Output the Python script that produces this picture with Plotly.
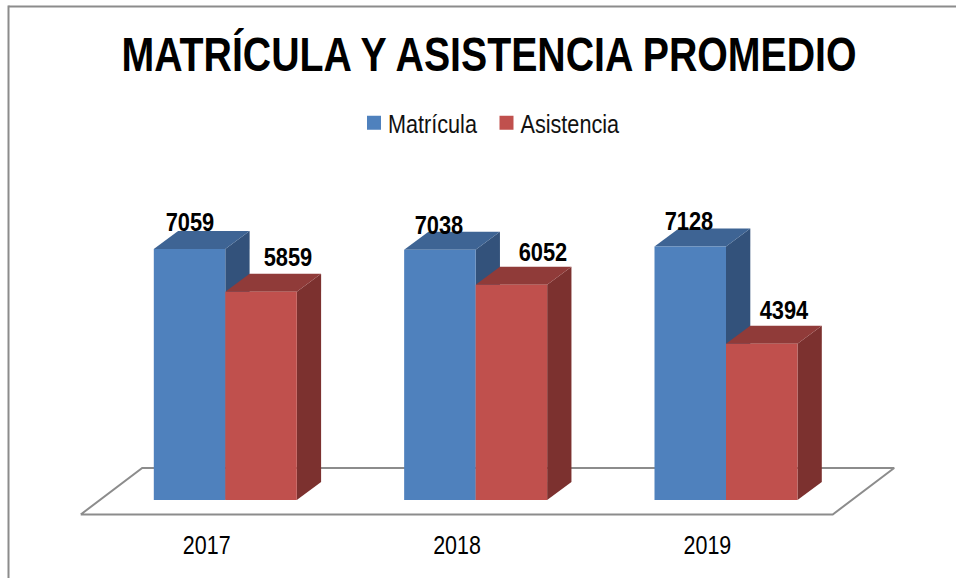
import plotly.graph_objects as go

# Data
years = ["2017", "2018", "2019"]
matricula = [7059, 7038, 7128]
asistencia = [5859, 6052, 4394]

# Canvas / scale
W, H = 956, 578
PLOT_BOTTOM = 527      # px
BASE_PX = 500          # px of value 0
X0_PX = 225.3          # px of the first group centre
X_STEP_PX = 250.35     # px per category
PX_PER_UNIT = 0.03555  # px per data unit

def dx(px):
    return px / X_STEP_PX

def dy(px):
    return px / PX_PER_UNIT

x_range = [dx(-X0_PX), dx(W - X0_PX)]
y_range = [dy(BASE_PX - PLOT_BOTTOM), dy(BASE_PX)]

BAR_W = dx(71.5)
DEPTH_X, DEPTH_Y = dx(24.3), dy(18)
FONT = "'Liberation Sans', Arial, sans-serif"
BLUE, BLUE_TOP, BLUE_SIDE = "#4f81bd", "#3e6494", "#33527b"
RED, RED_TOP, RED_SIDE = "#c0504d", "#903b39", "#7c312f"
GRAY = "#8c8c8c"

fig = go.Figure()

# Floor of the 3D box
fl, fr = dx(80.7 - X0_PX), dx(832.7 - X0_PX)
fy0, fy1 = dy(-14.5), dy(32)
fshift = dx(61.5)
fig.add_trace(go.Scatter(
    x=[fl, fr, fr + fshift, fl + fshift, fl],
    y=[fy0, fy0, fy1, fy1, fy0],
    mode="lines", line=dict(color=GRAY, width=2),
    showlegend=False, hoverinfo="skip"))

def face(xs, ys, color):
    fig.add_trace(go.Scatter(
        x=xs, y=ys, mode="lines", fill="toself", fillcolor=color,
        line=dict(width=0, color=color), showlegend=False, hoverinfo="skip"))

# Top and side faces, computed from the values
for series, left_off, top_c, side_c in [
    (matricula, -BAR_W, BLUE_TOP, BLUE_SIDE),
    (asistencia, 0.0, RED_TOP, RED_SIDE),
]:
    for i, v in enumerate(series):
        l = i + left_off
        r = l + BAR_W
        face([r, r + DEPTH_X, r + DEPTH_X, r, r],
             [0, DEPTH_Y, v + DEPTH_Y, v, 0], side_c)
        face([l, r, r + DEPTH_X, l + DEPTH_X, l],
             [v, v, v + DEPTH_Y, v + DEPTH_Y, v], top_c)

# Front faces on an overlay subplot so they sit above the side faces
idx = list(range(len(years)))
fig.add_trace(go.Bar(x=idx, y=matricula, name="Matrícula", width=BAR_W, offset=-BAR_W,
                     marker=dict(color=BLUE, line=dict(width=0)),
                     xaxis="x2", yaxis="y2"))
fig.add_trace(go.Bar(x=idx, y=asistencia, name="Asistencia", width=BAR_W, offset=0,
                     marker=dict(color=RED, line=dict(width=0)),
                     xaxis="x2", yaxis="y2"))

# Value labels (hand placed in the original)
label_shift_m = [(0, 26.6), (-1, 25), (-1, 25.5)]
label_shift_a = [(26.7, 35), (31.5, 32.5), (22, 34)]
for i in idx:
    fig.add_annotation(x=i - BAR_W / 2, y=matricula[i], text=str(matricula[i]),
                       xref="x", yref="y", showarrow=False, yanchor="middle",
                       xshift=label_shift_m[i][0], yshift=label_shift_m[i][1],
                       font=dict(family=FONT, size=26, color="black", weight="bold"))
    fig.add_annotation(x=i + BAR_W / 2, y=asistencia[i], text=str(asistencia[i]),
                       xref="x", yref="y", showarrow=False, yanchor="middle",
                       xshift=label_shift_a[i][0], yshift=label_shift_a[i][1],
                       font=dict(family=FONT, size=26, color="black", weight="bold"))

# Chart frame (top and left edges only are visible in the original)
def py(px):
    return 1 - px / PLOT_BOTTOM

fig.add_shape(type="line", xref="paper", yref="paper", x0=8.5 / W, x1=1,
              y0=py(6.5), y1=py(6.5), line=dict(color=GRAY, width=2))
fig.add_shape(type="line", xref="paper", yref="paper", x0=8.5 / W, x1=8.5 / W,
              y0=py(5.5), y1=py(H), line=dict(color=GRAY, width=2))

fig.update_layout(
    width=W, height=H,
    margin=dict(l=0, r=0, t=0, b=H - PLOT_BOTTOM, pad=0, autoexpand=False),
    paper_bgcolor="white", plot_bgcolor="rgba(0,0,0,0)",
    barmode="overlay",
    title=dict(text="MATRÍCULA Y ASISTENCIA PROMEDIO",
               x=489 / W, xanchor="center", xref="paper",
               y=1 - 54 / H, yanchor="middle", yref="container",
               font=dict(family=FONT, size=48, color="black", weight="bold")),
    legend=dict(orientation="h", x=356 / W, xanchor="left", y=py(123), yanchor="middle",
                font=dict(family=FONT, size=25, color="#111111"),
                entrywidth=95.5, entrywidthmode="pixels", indentation=-8,
                bgcolor="rgba(0,0,0,0)", traceorder="normal"),
    xaxis=dict(range=x_range, showgrid=False, zeroline=False, showline=False,
               tickmode="array", tickvals=[i - dx(18.6) for i in idx], ticktext=years,
               ticks="", ticklen=0, tickfont=dict(family=FONT, size=26, color="black"),
               fixedrange=True),
    yaxis=dict(range=y_range, visible=False, fixedrange=True),
    xaxis2=dict(range=x_range, overlaying="x", visible=False, fixedrange=True),
    yaxis2=dict(range=y_range, overlaying="y", visible=False, fixedrange=True),
)

# The original uses a narrow face; none is installed, so the real text is
# condensed horizontally, and legend swatches are set as in the original.
POST = """
document.body.style.margin = '0';
function squeeze(sel, k) {
  document.querySelectorAll(sel).forEach(function (t) {
    var w = t.getComputedTextLength();
    t.setAttribute('textLength', (w * k).toFixed(2));
    t.setAttribute('lengthAdjust', 'spacingAndGlyphs');
  });
}
document.querySelectorAll('text.gtitle').forEach(function (t) {
  var cx = parseFloat(t.getAttribute('x'));
  var k = 0.818;
  t.setAttribute('transform', 'translate(' + cx + ',0) scale(' + k + ',1) translate(' + (-cx) + ',0)');
});
squeeze('text.annotation-text', 0.84);
squeeze('.xtick text', 0.825);
squeeze('text.legendtext', 0.865);
document.querySelectorAll('.legend .scrollbox').forEach(function (e) {
  e.removeAttribute('clip-path');
});
document.querySelectorAll('.legend path.legendbar, .legendpoints path').forEach(function (p) {
  var m = /translate\\(([-\\d.]+)/.exec(p.getAttribute('transform') || '');
  var base = m ? parseFloat(m[1]) : 0;
  p.setAttribute('d', 'M7,7H-7V-7H7Z');
  p.setAttribute('transform', 'translate(' + (base + 6) + ',0)');
});
"""

fig.write_html("out.html", config={"displayModeBar": False}, post_script=POST)
